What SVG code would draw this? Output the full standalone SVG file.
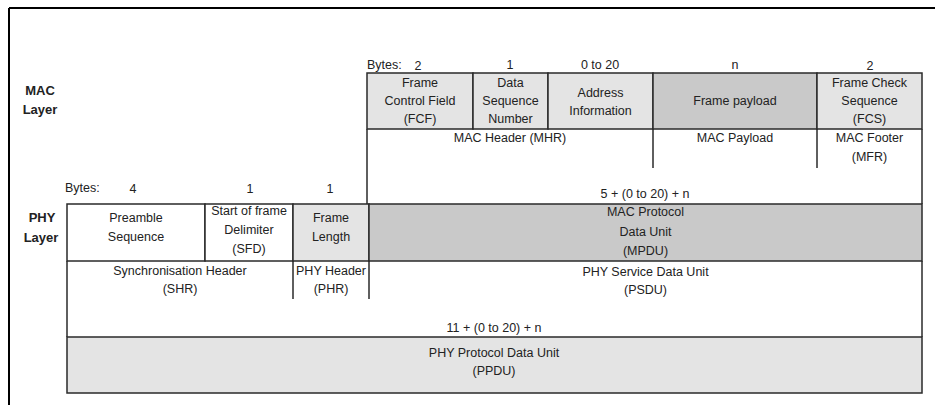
<svg xmlns="http://www.w3.org/2000/svg" width="935" height="405" viewBox="0 0 935 405">
<style>
text{font-family:"Liberation Sans",Arial,sans-serif;font-size:12.5px;fill:#222;text-anchor:middle}
.lbl{font-weight:bold;font-size:13px}
.st{text-anchor:start}
.bx{stroke:#2a2a2a;stroke-width:1.5}
.ln{stroke:#2a2a2a;stroke-width:1.5;fill:none}
.lt{fill:#e4e4e4}
.dk{fill:#c9c9c9}
.wh{fill:#ffffff}
</style>
<rect width="935" height="405" fill="#fff"/>
<g id="frame">
<line x1="9" y1="8" x2="935" y2="8" stroke="#000" stroke-width="2"/>
<line x1="9" y1="8" x2="9" y2="405" stroke="#000" stroke-width="2"/>
</g>
<g id="labels">
<text class="lbl" x="40" y="95">MAC</text>
<text class="lbl" x="40" y="114">Layer</text>
<text class="lbl" x="42" y="222">PHY</text>
<text class="lbl" x="41" y="242">Layer</text>
</g>
<g id="mac-bytes">
<text class="st" x="367" y="69">Bytes:</text>
<text x="418" y="70">2</text>
<text x="510" y="69">1</text>
<text x="600" y="69">0 to 20</text>
<text x="735" y="69">n</text>
<text x="870" y="70">2</text>
</g>
<g id="fcf"><rect class="bx lt" x="367" y="73" width="106" height="56"/>
<text x="420" y="87">Frame</text><text x="420" y="105">Control Field</text><text x="420" y="123">(FCF)</text></g>
<g id="dsn"><rect class="bx lt" x="473" y="73" width="75" height="56"/>
<text x="510.5" y="87">Data</text><text x="510.5" y="105">Sequence</text><text x="510.5" y="123">Number</text></g>
<g id="addr"><rect class="bx lt" x="548" y="73" width="105" height="56"/>
<text x="600.5" y="97">Address</text><text x="600.5" y="115">Information</text></g>
<g id="payload"><rect class="bx dk" x="653" y="73" width="164" height="56"/>
<text x="735" y="105">Frame payload</text></g>
<g id="fcs"><rect class="bx lt" x="817" y="73" width="105" height="56"/>
<text x="869.5" y="87">Frame Check</text><text x="869.5" y="105">Sequence</text><text x="869.5" y="123">(FCS)</text></g>
<g id="mhr"><text x="510" y="142">MAC Header (MHR)</text></g>
<g id="macpayload"><text x="735" y="142">MAC Payload</text></g>
<g id="mfr"><text x="869.5" y="142">MAC Footer</text><text x="869.5" y="161">(MFR)</text></g>
<g id="phy-bytes">
<text class="st" x="65" y="192">Bytes:</text>
<text x="133" y="193">4</text>
<text x="250" y="193">1</text>
<text x="330" y="193">1</text>
<text x="645" y="198">5 + (0 to 20) + n</text>
</g>
<g id="preamble"><rect class="bx wh" x="67" y="204" width="138" height="57"/>
<text x="136" y="222">Preamble</text><text x="136" y="241">Sequence</text></g>
<g id="sfd"><rect class="bx wh" x="205" y="204" width="88" height="57"/>
<text x="249" y="215">Start of frame</text><text x="249" y="234">Delimiter</text><text x="249" y="253">(SFD)</text></g>
<g id="framelength"><rect class="bx lt" x="293" y="204" width="76" height="57"/>
<text x="331" y="222">Frame</text><text x="331" y="241">Length</text></g>
<g id="mpdu"><rect class="bx dk" x="369" y="204" width="553" height="57"/>
<text x="645.5" y="216">MAC Protocol</text><text x="645.5" y="236">Data Unit</text><text x="645.5" y="255">(MPDU)</text></g>
<g id="shr"><text x="180" y="275">Synchronisation Header</text><text x="180" y="293">(SHR)</text></g>
<g id="phr"><text x="331" y="275">PHY Header</text><text x="331" y="293">(PHR)</text></g>
<g id="psdu"><text x="645.5" y="276">PHY Service Data Unit</text><text x="645.5" y="294">(PSDU)</text></g>
<g id="total"><text x="494" y="332">11 + (0 to 20) + n</text></g>
<g id="ppdu"><rect class="bx lt" x="67" y="337" width="855" height="56"/>
<text x="494" y="357">PHY Protocol Data Unit</text><text x="494" y="375">(PPDU)</text></g>
<g id="connectors">
<line class="ln" x1="367" y1="129" x2="367" y2="204"/>
<line class="ln" x1="653" y1="129" x2="653" y2="168"/>
<line class="ln" x1="817" y1="129" x2="817" y2="168"/>
<line class="ln" x1="922" y1="129" x2="922" y2="204"/>
<line class="ln" x1="67" y1="261" x2="67" y2="337"/>
<line class="ln" x1="293" y1="261" x2="293" y2="299"/>
<line class="ln" x1="369" y1="261" x2="369" y2="299"/>
<line class="ln" x1="922" y1="261" x2="922" y2="337"/>
</g>
</svg>
